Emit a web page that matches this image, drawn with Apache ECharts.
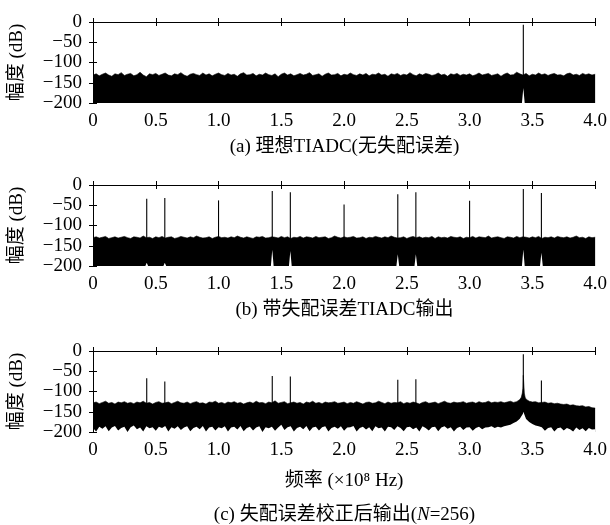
<!DOCTYPE html>
<html><head><meta charset="utf-8">
<script src="https://cdn.jsdelivr.net/npm/echarts@6/dist/echarts.min.js"></script>
<style>html,body{margin:0;padding:0;background:#fff}#c{width:610px;height:525px}</style>
</head><body><div id="c"></div>
<script>
// ---------- data (dB values) ----------
const X_STEP = 0.025; // frequency step of the noise-envelope arrays (x10^8 Hz)
const X_TICKS = [0, 0.5, 1.0, 1.5, 2.0, 2.5, 3.0, 3.5, 4.0];
const Y_TICKS = [0, -50, -100, -150, -200];

// (a) upper edge of noise floor
const UP_A = [
-131,-128,-133,-129,-126,-131,-134,-128,-130,-125,
-132,-129,-127,-133,-130,-124,-131,-135,-128,-130,
-127,-132,-129,-126,-131,-133,-128,-130,-125,-131,
-134,-129,-127,-130,-132,-126,-131,-128,-133,-129,
-126,-130,-132,-127,-131,-129,-134,-128,-125,-131,
-130,-127,-133,-129,-131,-126,-130,-132,-128,-135,
-129,-126,-131,-128,-133,-130,-127,-131,-129,-125,
-132,-130,-128,-134,-129,-126,-131,-130,-127,-133,
-129,-131,-126,-130,-132,-128,-131,-127,-133,-129,
-130,-126,-131,-129,-134,-128,-130,-127,-132,-129,
-131,-125,-130,-133,-128,-131,-127,-129,-132,-130,
-126,-131,-129,-134,-128,-130,-127,-132,-129,-131,
-128,-133,-130,-126,-131,-129,-127,-132,-130,-128,
-134,-129,-126,-131,-130,-124,-128,-131,-127,-133,
-129,-131,-126,-130,-128,-132,-129,-127,-131,-130,
-133,-128,-126,-131,-129,-132,-127,-130,-128,-131,
-129];
const SPIKES_A = [[3.428, -7]];
const NOTCH_A = [[3.428, -163]];

// (b)
const UP_B = [
-130,-128,-131,-129,-127,-132,-130,-128,-131,-129,
-127,-130,-132,-128,-129,-131,-126,-130,-129,-132,
-128,-130,-127,-131,-129,-128,-132,-130,-127,-129,
-131,-128,-130,-126,-129,-131,-130,-128,-132,-129,
-127,-130,-129,-131,-128,-130,-126,-129,-131,-128,
-130,-132,-128,-129,-127,-131,-130,-128,-129,-131,
-127,-130,-128,-132,-129,-130,-127,-131,-128,-129,
-131,-127,-130,-129,-128,-132,-130,-126,-129,-131,
-128,-130,-129,-127,-131,-130,-128,-132,-129,-130,
-127,-129,-131,-128,-130,-126,-129,-131,-130,-128,
-132,-129,-127,-130,-128,-131,-129,-130,-127,-132,
-128,-130,-129,-131,-127,-129,-130,-128,-132,-129,
-130,-127,-131,-128,-129,-130,-126,-131,-129,-128,
-130,-132,-128,-129,-131,-127,-130,-128,-129,-131,
-128,-130,-127,-132,-129,-130,-128,-131,-127,-129,
-130,-128,-131,-129,-126,-130,-129,-132,-128,-130,
-129];
const SPIKES_B = [[0.428,-34],[0.572,-32],[1.0,-38],[1.428,-15],[1.572,-18],[2.0,-48],
                  [2.428,-23],[2.572,-18],[3.0,-39],[3.428,-10],[3.572,-20]];
const NOTCH_B = [[0.428,-192],[0.572,-192],[1.428,-160],[1.572,-163],[2.428,-171],
                 [2.572,-171],[3.428,-159],[3.572,-167]];

// (c)
const UP_C = [
-128,-126,-130,-127,-124,-129,-127,-131,-126,-128,
-125,-129,-127,-130,-126,-128,-124,-129,-127,-131,
-127,-125,-129,-128,-126,-130,-127,-124,-128,-129,
-126,-130,-127,-125,-129,-128,-131,-126,-127,-124,
-129,-127,-130,-126,-128,-125,-129,-127,-131,-128,
-126,-129,-124,-128,-127,-130,-126,-128,-123,-129,
-127,-125,-130,-128,-126,-129,-127,-131,-126,-128,
-124,-129,-127,-130,-126,-128,-127,-125,-129,-128,
-126,-130,-127,-129,-125,-128,-131,-127,-126,-129,
-128,-124,-127,-130,-126,-129,-127,-128,-125,-130,
-127,-129,-126,-128,-131,-127,-125,-129,-128,-126,
-130,-127,-124,-128,-129,-126,-128,-127,-125,-129,
-127,-126,-129,-125,-128,-127,-124,-128,-126,-127,
-125,-128,-126,-124,-127,-125,-120,-92,-119,-124,
-126,-125,-128,-127,-126,-129,-128,-130,-129,-131,
-132,-131,-134,-133,-135,-136,-135,-138,-137,-140,
-141];
const LO_C = [
-190,-199,-187,-192,-186,-198,-189,-185,-196,-190,
-187,-200,-188,-184,-193,-189,-199,-186,-191,-188,
-197,-187,-190,-185,-199,-188,-192,-186,-195,-189,
-186,-198,-190,-187,-193,-185,-199,-189,-187,-196,
-188,-191,-186,-199,-189,-187,-194,-185,-198,-190,
-187,-196,-189,-186,-200,-188,-191,-187,-197,-189,
-182,-195,-188,-186,-199,-190,-187,-193,-185,-198,
-189,-187,-196,-188,-186,-199,-190,-187,-192,-186,
-197,-189,-188,-185,-199,-190,-187,-194,-188,-198,
-186,-191,-189,-199,-187,-188,-195,-186,-190,-198,
-188,-187,-193,-189,-199,-186,-190,-196,-188,-187,
-198,-189,-186,-192,-188,-199,-190,-187,-195,-189,
-188,-197,-190,-187,-193,-189,-188,-186,-190,-187,
-189,-186,-184,-182,-178,-174,-167,-155,-168,-175,
-180,-184,-186,-188,-197,-190,-188,-199,-191,-189,
-196,-190,-193,-199,-189,-195,-191,-198,-190,-194,
-193];
const SKIRT_C_UP = [[3.412,-114],[3.420,-104],[3.428,-60],[3.436,-104],[3.442,-114]];
const SKIRT_C_LO = [[3.428,-150]];
const SPIKES_C = [[0.428,-67],[0.572,-75],[1.428,-62],[1.572,-63],[2.428,-71],
                  [2.572,-70],[3.428,-8],[3.572,-73]];

const CAPTIONS = ['(a) 理想TIADC(无失配误差)', '(b) 带失配误差TIADC输出'];
const CAPTION_C = ['(c) 失配误差校正后输出(', 'N', '=256)'];
const Y_NAME = '幅度 (dB)';
const X_NAME = '频率 (×10⁸ Hz)';

// ---------- layout / style ----------
const FONT = "'Liberation Serif','Noto Sans CJK SC',serif";
const FS = 19;
const NOTCH_HW = 0.011;
const GRID_TOPS = [22, 185, 351];
const GRID_H = 81, GRID_L = 92, GRID_R = 13;
const CAP_Y = [147, 310, 515];

function gridData(arr) { return arr.map((v, i) => [+(i * X_STEP).toFixed(4), v]); }
function merge(base, extra) { return base.concat(extra).sort((a, b) => a[0] - b[0]); }
function notchLine(notches) {
  const pts = [[0, -200]];
  notches.forEach(([x, y]) => { pts.push([x - NOTCH_HW, -200], [x, y], [x + NOTCH_HW, -200]); });
  pts.push([4, -200]);
  return pts;
}
const minus = v => v < 0 ? '\u2212' + (-v) : String(v);

const panels = [
  { up: gridData(UP_A), lo: notchLine(NOTCH_A), spikes: SPIKES_A },
  { up: gridData(UP_B), lo: notchLine(NOTCH_B), spikes: SPIKES_B },
  { up: merge(gridData(UP_C), SKIRT_C_UP), lo: merge(gridData(LO_C), SKIRT_C_LO), spikes: SPIKES_C }
];

const grid = [], xAxis = [], yAxis = [], series = [];
const tickStyle = { show: true, inside: true, length: 4, lineStyle: { color: '#000', width: 1 } };
const lineStyleAxis = { show: true, lineStyle: { color: '#000', width: 1 } };

panels.forEach((p, i) => {
  grid.push({ left: GRID_L, right: GRID_R, top: GRID_TOPS[i], height: GRID_H });
  xAxis.push({
    type: 'value', gridIndex: i, min: 0, max: 4, interval: 0.5, z: 10,
    axisLine: lineStyleAxis, axisTick: tickStyle, splitLine: { show: false },
    axisLabel: { color: '#000', fontSize: FS, fontFamily: FONT, margin: 9,
      formatter: v => v === 0 ? '0' : v.toFixed(1) },
    name: i === 2 ? X_NAME : '', nameLocation: 'middle', nameGap: 40,
    nameTextStyle: { color: '#000', fontSize: FS, fontFamily: FONT }
  });
  yAxis.push({
    type: 'value', gridIndex: i, min: -200, max: 0, interval: 50, z: 10,
    axisLine: lineStyleAxis, axisTick: tickStyle, splitLine: { show: false },
    axisLabel: { color: '#000', fontSize: FS, fontFamily: FONT, margin: 11, formatter: minus },
    name: Y_NAME, nameLocation: 'middle', nameRotate: 90, nameGap: 66,
    nameTextStyle: { color: '#000', fontSize: FS, fontFamily: FONT }
  });
});
panels.forEach((p, i) => {
  xAxis.push({ type: 'value', gridIndex: i, position: 'top', min: 0, max: 4, interval: 0.5, z: 10,
    axisLine: lineStyleAxis, axisTick: tickStyle, axisLabel: { show: false }, splitLine: { show: false } });
  yAxis.push({ type: 'value', gridIndex: i, position: 'right', min: -200, max: 0, interval: 50, z: 10,
    axisLine: lineStyleAxis, axisTick: tickStyle, axisLabel: { show: false }, splitLine: { show: false } });
});

panels.forEach((p, i) => {
  series.push({
    type: 'line', xAxisIndex: i, yAxisIndex: i, data: p.up, z: 2,
    showSymbol: false, silent: true, animation: false,
    lineStyle: { color: '#000', width: 0.6 },
    areaStyle: { color: '#000', opacity: 1, origin: 'start' }
  });
  series.push({
    type: 'custom', xAxisIndex: i, yAxisIndex: i, data: p.spikes, z: 3, silent: true, animation: false,
    renderItem: (params, api) => {
      const a = api.coord([api.value(0), -200]);
      const b = api.coord([api.value(0), api.value(1)]);
      return { type: 'line', shape: { x1: a[0], y1: a[1], x2: b[0], y2: b[1] },
        style: { stroke: '#000', lineWidth: 1.1 } };
    }
  });
  series.push({
    type: 'line', xAxisIndex: i, yAxisIndex: i, data: p.lo, z: 4,
    showSymbol: false, silent: true, animation: false,
    lineStyle: { color: '#fff', width: 0 },
    areaStyle: { color: '#fff', opacity: 1, origin: 'start' }
  });
});

const cx = GRID_L + (610 - GRID_L - GRID_R) / 2;
const txt = (t, y) => ({ type: 'text', x: cx, y, style: { text: t, fill: '#000', font: FS + 'px ' + FONT,
    align: 'center', verticalAlign: 'middle', textAlign: 'center', textVerticalAlign: 'middle' } });
const graphic = [
  txt(CAPTIONS[0], CAP_Y[0]),
  txt(CAPTIONS[1], CAP_Y[1]),
  { type: 'text', x: cx, y: CAP_Y[2], style: {
    text: '{a|' + CAPTION_C[0] + '}{i|' + CAPTION_C[1] + '}{a|' + CAPTION_C[2] + '}',
    fill: '#000', font: FS + 'px ' + FONT,
    align: 'center', verticalAlign: 'middle', textAlign: 'center', textVerticalAlign: 'middle',
    rich: { a: { fontSize: FS, fontFamily: FONT, fill: '#000' },
            i: { fontSize: FS, fontFamily: FONT, fontStyle: 'italic', fill: '#000' } } } }
];

const chart = echarts.init(document.getElementById('c'), null, { renderer: 'canvas' });
chart.setOption({ animation: false, backgroundColor: '#fff', grid, xAxis, yAxis, series, graphic });
</script>
</body></html>
